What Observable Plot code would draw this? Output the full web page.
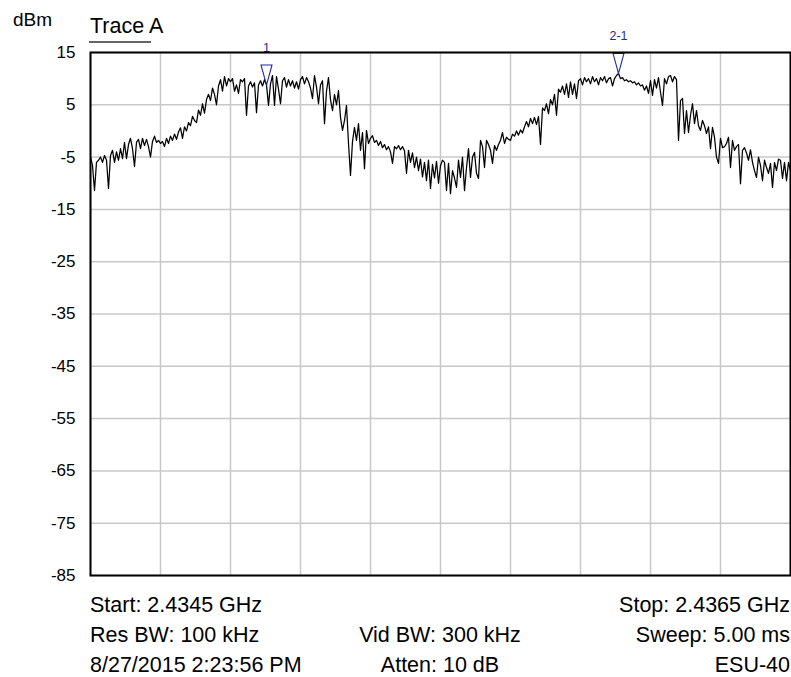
<!DOCTYPE html>
<html><head><meta charset="utf-8">
<script src="https://cdn.jsdelivr.net/npm/d3@7"></script>
<script src="https://cdn.jsdelivr.net/npm/@observablehq/plot@0.6"></script>
<style>
body{margin:0;background:#fff;}
#wrap{position:relative;width:791px;height:677px;}
</style></head><body><div id="wrap"></div>
<script>
// ---- data ----
const startGHz = 2.4345;
const stopGHz = 2.4365;
const divisions = 10;
const yTicks = [15, 5, -5, -15, -25, -35, -45, -55, -65, -75, -85];
const unitLabel = "dBm";
const traceName = "Trace A";
// sweep points (dBm), evenly spaced from start to stop
const traceDbm = [
 -5.0,-6.6,-11.4,-6.0,-5.6,-5.0,-6.0,-4.7,-5.6,-11.0,-4.7,-3.7,-6.0,-4.0,-5.6,-3.4,-5.3,-2.2,-5.3,-2.6,
 -1.4,-3.4,-6.8,-2.2,-1.6,-3.4,-1.4,-2.8,-1.6,-3.0,-5.0,-2.0,-1.0,-2.2,-1.8,-2.4,
 -2.0,-3.0,-1.4,-2.4,-1.0,-1.8,-0.6,-1.6,-0.2,0.6,-1.4,0.8,0.0,1.6,1.0,2.8,2.0,1.6,4.0,3.0,
 5.2,3.4,6.0,7.0,5.8,8.2,7.0,5.0,8.6,9.8,7.6,10.4,8.6,10.0,
 9.4,10.0,7.6,8.8,7.2,9.8,9.4,10.0,3.0,8.6,9.4,8.4,9.2,3.5,8.8,9.6,8.6,9.8,8.8,4.9,
 9.0,10.6,4.9,10.4,8.0,5.2,9.6,10.2,8.4,9.8,8.6,9.6,8.2,9.4,8.0,9.8,10.4,9.0,10.2,9.4,
 8.2,6.2,10.6,8.4,5.2,8.8,9.6,1.4,7.6,10.2,
 6.0,3.9,7.0,5.0,7.7,2.6,0.1,2.0,4.9,-2.4,-8.5,-2.0,0.7,-1.8,1.4,-3.7,-0.3,-7.2,0.1,-2.4,
 -1.4,-0.9,-2.2,-1.8,-2.8,-2.0,-3.2,-2.6,-3.6,-3.0,-4.0,-6.2,-3.0,-3.4,-2.8,-3.6,-3.0,-3.8,-8.1,-3.7,
 -6.0,-4.2,-7.0,-5.0,-7.6,-5.4,-8.8,-6.0,-9.5,-5.6,-11.0,-6.4,-9.0,-5.8,-10.0,-6.6,-5.6,-6.0,
 -11.4,-6.2,-12.0,-7.6,-9.0,-10.8,-5.6,-8.9,-5.0,-11.4,-7.0,-3.4,-8.9,-5.0,-4.1,-8.1,-9.1,-1.8,-3.0,-7.0,
 -1.8,-2.6,-3.7,-6.2,-2.8,-3.7,-2.6,-1.8,-0.3,-2.4,-1.2,-1.6,-1.8,-0.6,-1.0,0.0,-0.8,0.2,-0.4,0.8,
 1.8,0.8,2.4,1.4,2.6,1.2,2.8,-2.6,4.4,3.9,5.2,3.3,6.0,5.0,7.0,3.0,8.0,7.4,8.6,
 7.0,9.0,6.4,9.4,7.0,9.0,6.2,9.6,10.0,8.8,10.2,9.4,10.0,9.0,10.4,9.4,10.0,8.8,10.2,9.6,
 10.4,9.2,10.0,10.2,8.6,10.0,10.6,11.0,10.0,10.2,9.6,9.8,9.4,9.6,9.2,9.4,8.8,9.2,8.6,8.8,
 7.8,8.6,7.2,9.6,6.8,9.8,8.2,10.2,7.4,4.9,10.0,9.0,10.4,10.6,9.4,10.4,9.8,-1.8,
 5.8,6.2,-0.5,3.9,-0.3,3.0,5.2,1.4,3.9,1.0,0.1,2.0,1.0,-0.5,0.8,-3.4,0.7,-1.2,-5.0,-6.2,
 -1.4,-3.2,-3.0,-2.4,-1.2,-7.0,-1.8,-3.7,-3.0,-2.6,-10.1,-3.7,-3.2,-4.2,-5.6,-3.6,-6.0,-7.6,-8.9,-5.0,
 -6.6,-9.5,-5.6,-7.0,-8.1,-6.2,-10.8,-6.0,-7.6,-5.4,-5.6,-9.1,-6.0,-9.5,-6.0,-7.6
];
const markerLabels = ["1", "2-1"];
const markerIndex = [88, 264];
const footerLeft = ["Start: 2.4345 GHz", "Res BW: 100 kHz", "8/27/2015 2:23:56 PM"];
const footerCenter = ["", "Vid BW: 300 kHz", "Atten: 10 dB"];
const footerRight = ["Stop: 2.4365 GHz", "Sweep: 5.00 ms", "ESU-40"];

// ---- derived tables ----
const n = traceDbm.length;
const step = (stopGHz - startGHz) / (n - 1);
const trace = traceDbm.map((v, i) => ({freq: startGHz + i * step, dbm: v}));
const xDiv = d3.range(divisions + 1).map(k => startGHz + k * (stopGHz - startGHz) / divisions);
const markers = markerLabels.map((label, k) => ({label, freq: trace[markerIndex[k]].freq, dbm: trace[markerIndex[k]].dbm}));

const markerSymbol = {draw(ctx) { ctx.moveTo(0, 0); ctx.lineTo(-5.5, -20); ctx.lineTo(5.5, -20); ctx.closePath(); }};

const W = 791, H = 677;
const font = '"Liberation Sans", Arial, Helvetica, sans-serif';
const chart = Plot.plot({
  width: W, height: H,
  marginLeft: 90, marginRight: 1, marginTop: 52, marginBottom: 102,
  style: {fontFamily: font, fontSize: "17px", color: "#000", background: "#fff"},
  x: {domain: [startGHz, stopGHz], axis: null},
  y: {domain: [-85, 15], ticks: yTicks, tickSize: 0, tickPadding: 15, label: null, tickFormat: d => String(d)},
  marks: [
    Plot.gridX(xDiv, {stroke: "#c8c8c8", strokeOpacity: 1, strokeWidth: 1.5}),
    Plot.gridY(yTicks, {stroke: "#c8c8c8", strokeOpacity: 1, strokeWidth: 1.5}),
    Plot.line(trace, {x: "freq", y: "dbm", stroke: "#000", strokeWidth: 1.25}),
    Plot.dot(markers, {x: "freq", y: "dbm", symbol: markerSymbol, stroke: "#1f2a9c", fill: "none", strokeWidth: 1.1}),
    Plot.text(markers, {x: "freq", y: "dbm", text: "label", dy: -33, lineAnchor: "bottom", fill: "#1f2a9c", fontSize: 12.5}),
    Plot.frame({stroke: "#000", strokeWidth: 2})
  ]
});
document.getElementById("wrap").appendChild(chart);

const svg = d3.select(chart);
svg.append("text").attr("x", 13).attr("y", 26).attr("text-anchor", "start").attr("font-size", 19).attr("font-family", font).attr("fill", "#000").text(unitLabel);
svg.append("text").attr("x", 90).attr("y", 33).attr("text-anchor", "start").attr("font-size", 21.5).attr("font-family", font).attr("fill", "#000").text(traceName);
svg.append("line").attr("x1", 89).attr("x2", 151).attr("y1", 42).attr("y2", 42).attr("stroke", "#333").attr("stroke-width", 1.5);
const baselines = [611.5, 642, 672];
const cols = [[footerLeft, 90, "start"], [footerCenter, 440, "middle"], [footerRight, 790, "end"]];
for (const [arr, x, anchor] of cols) {
  arr.forEach((t, i) => {
    if (!t) return;
    svg.append("text").attr("x", x).attr("y", baselines[i]).attr("text-anchor", anchor)
      .attr("font-size", 21.5).attr("font-family", font).attr("fill", "#000").text(t);
  });
}
</script></body></html>
